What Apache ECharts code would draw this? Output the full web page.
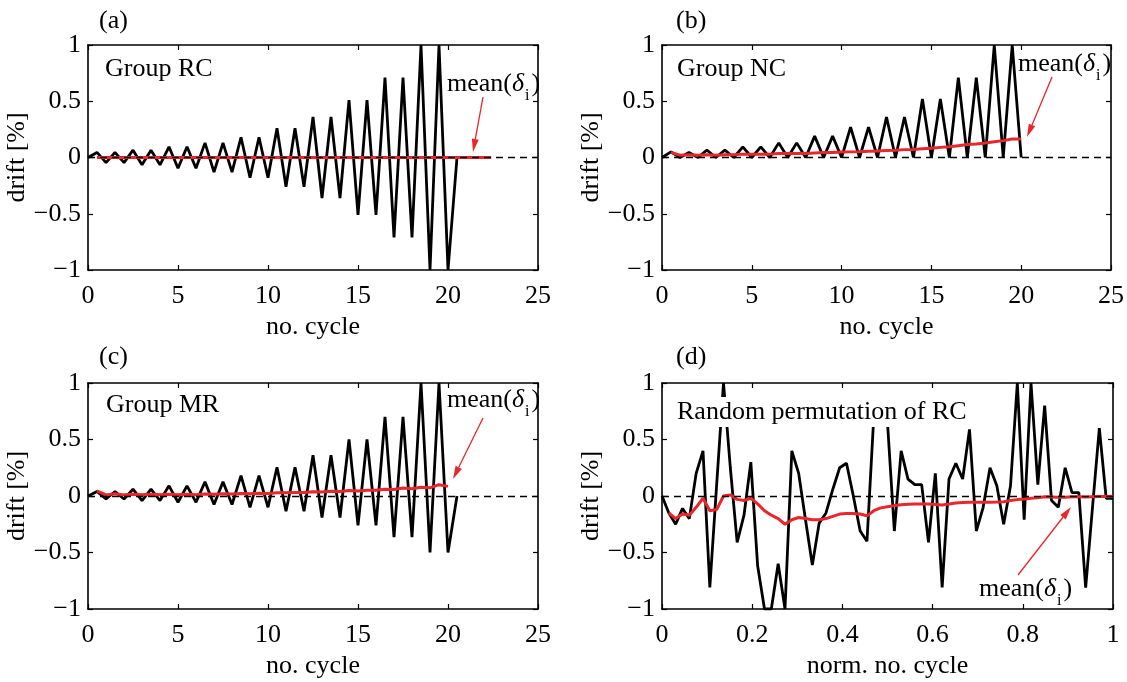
<!DOCTYPE html>
<html><head><meta charset="utf-8">
<script src="https://cdn.jsdelivr.net/npm/echarts@6/dist/echarts.min.js"></script>
<style>html,body{margin:0;padding:0;background:#fff}#c{width:1127px;height:682px}</style>
</head><body><div id="c"></div>
<script>
// ---------------- data ----------------
const halfCycle = 0.5;                 // drift sampled every half cycle
// (a) Group RC – drift per half cycle, starting at cycle 0
const driftRC = [0,0.045,-0.045,0.045,-0.045,0.065,-0.065,0.065,-0.065,0.095,-0.095,0.095,-0.095,
  0.13,-0.13,0.13,-0.13,0.18,-0.18,0.18,-0.18,0.26,-0.26,0.26,-0.26,0.36,-0.36,0.36,-0.36,
  0.51,-0.51,0.51,-0.51,0.71,-0.71,0.71,-0.71,1.0,-1.0,1.0,-1.0,0];
const meanRCx = [0.5, 22.4];
const meanRC  = [0, 0];
// (b) Group NC
const driftNC = [0,0.05,0,0.045,0,0.065,0,0.065,0,0.095,0,0.095,0,0.13,0,0.13,0,0.19,0,0.19,0,
  0.27,0,0.27,0,0.36,0,0.36,0,0.52,0,0.52,0,0.71,0,0.71,0,1.0,0,1.0,0];
const meanNC = [0.045,0.02,0.025,0.02,0.025,0.02,0.025,0.025,0.03,0.03,0.03,0.03,0.035,0.035,0.035,0.035,
  0.04,0.045,0.045,0.048,0.05,0.052,0.055,0.058,0.062,0.065,0.07,0.072,0.078,0.082,0.09,0.095,
  0.105,0.115,0.12,0.128,0.14,0.15,0.165,0.165];
// (c) Group MR
const driftMR = [0,0.04,-0.027,0.04,-0.027,0.06,-0.04,0.06,-0.04,0.09,-0.055,0.09,-0.055,
  0.125,-0.075,0.125,-0.075,0.18,-0.1,0.18,-0.1,0.255,-0.135,0.255,-0.135,0.36,-0.19,0.36,-0.19,
  0.5,-0.26,0.5,-0.26,0.7,-0.365,0.7,-0.365,1.0,-0.5,1.0,-0.5,0];
const meanMR = [0.045,0.01,0.02,0.01,0.015,0.01,0.015,0.01,0.015,0.012,0.015,0.012,0.018,0.015,0.02,0.018,
  0.022,0.02,0.025,0.022,0.028,0.028,0.032,0.032,0.038,0.036,0.042,0.04,0.048,0.045,
  0.05,0.05,0.06,0.058,0.07,0.065,0.078,0.072,0.1,0.085];
// (d) Random permutation of RC – evenly spaced over normalised cycle 0..1
const driftPerm = [0,-0.15,-0.25,-0.11,-0.2,0.2,0.4,-0.81,0.1,1.0,0.25,-0.41,-0.17,0.3,-0.62,-1.0,-1.0,-0.6,-1.0,
  0.4,0.2,-0.21,-0.61,-0.24,-0.15,0.06,0.25,0.29,0.0,-0.31,-0.4,0.71,0.85,0.65,-0.31,0.4,0.15,0.1,0.1,
  -0.41,0.2,-0.81,0.15,0.29,0.15,0.59,-0.31,-0.1,0.25,0.09,-0.25,0.09,1.0,-0.21,1.0,0.1,0.8,-0.04,-0.1,
  0.25,0.03,0.03,-0.81,-0.1,0.6,-0.02,-0.02];
const meanPerm = [-0.15,-0.2,-0.16,-0.17,-0.1,-0.02,-0.13,-0.12,0.0,0.01,-0.03,-0.04,-0.02,-0.07,-0.13,-0.17,
  -0.2,-0.25,-0.21,-0.19,-0.2,-0.21,-0.21,-0.2,-0.18,-0.16,-0.155,-0.155,-0.16,-0.175,-0.13,-0.105,
  -0.095,-0.085,-0.078,-0.072,-0.07,-0.07,-0.07,-0.075,-0.08,-0.07,-0.062,-0.058,-0.056,-0.056,-0.056,
  -0.055,-0.053,-0.05,-0.04,-0.032,-0.027,-0.02,-0.015,-0.006,-0.008,-0.012,-0.01,-0.006,-0.006,
  -0.008,-0.006,-0.005,-0.004,-0.003];
const yTicks = [-1, -0.5, 0, 0.5, 1];
const panelLabels = ['(a)', '(b)', '(c)', '(d)'];
const groupNames = ['Group RC', 'Group NC', 'Group MR', 'Random permutation of RC'];
const xNames = ['no. cycle', 'no. cycle', 'no. cycle', 'norm. no. cycle'];
const yName = 'drift [%]';

// ---------------- helpers ----------------
const FONT = '"Liberation Serif", "Times New Roman", serif';
const RED = '#e8262b';
const fmt = v => String(+(+v).toFixed(2)).replace('-', '\u2212');
const halfPairs = arr => arr.map((v, i) => [i * halfCycle, v]);
const pairsFrom = (arr, x0) => arr.map((v, i) => [x0 + i * halfCycle, v]);
const zipPairs = (xs, ys) => xs.map((x, i) => [x, ys[i]]);
const normPairs = (arr, offset, n) => arr.map((v, i) => [(i + offset) / n, v]);

const grids = [
  {left: 88, top: 45, width: 450, height: 225},
  {left: 662, top: 45, width: 450, height: 225},
  {left: 88, top: 383, width: 450, height: 226},
  {left: 662, top: 383, width: 451, height: 226}
];
const xRanges = [[0,25,5],[0,25,5],[0,25,5],[0,1,0.2]];

const axisLine = {show: true, onZero: false, lineStyle: {color: '#000', width: 1.6}};
const axisTick = {show: true, inside: true, length: 5, lineStyle: {color: '#000', width: 1.2}};
const labelStyle = {color: '#000', fontFamily: FONT, fontSize: 26};

const xAxis = [], yAxis = [];
grids.forEach((g, i) => {
  const [mn, mx, iv] = xRanges[i];
  xAxis.push({type: 'value', gridIndex: i, min: mn, max: mx, interval: iv, position: 'bottom',
    axisLine, axisTick, splitLine: {show: false},
    axisLabel: Object.assign({margin: 13, formatter: fmt}, labelStyle),
    name: xNames[i], nameLocation: 'middle', nameGap: 44,
    nameTextStyle: {color: '#000', fontFamily: FONT, fontSize: 26}});
  xAxis.push({type: 'value', gridIndex: i, min: mn, max: mx, interval: iv, position: 'top',
    axisLine, axisTick, splitLine: {show: false}, axisLabel: {show: false}});
  yAxis.push({type: 'value', gridIndex: i, min: -1, max: 1, interval: 0.5, position: 'left',
    axisLine, axisTick, splitLine: {show: false},
    axisLabel: Object.assign({margin: 7, formatter: fmt}, labelStyle),
    name: yName, nameLocation: 'middle', nameGap: 55, nameRotate: 90,
    nameTextStyle: {color: '#000', fontFamily: FONT, fontSize: 26}});
  yAxis.push({type: 'value', gridIndex: i, min: -1, max: 1, interval: 0.5, position: 'right',
    axisLine, axisTick, splitLine: {show: false}, axisLabel: {show: false}});
});

const blackData = [halfPairs(driftRC), halfPairs(driftNC), halfPairs(driftMR), normPairs(driftPerm, 0, driftPerm.length - 1)];
const redData = [zipPairs(meanRCx, meanRC), pairsFrom(meanNC, 0.5), pairsFrom(meanMR, 0.5), normPairs(meanPerm, 1, driftPerm.length - 1)];

const series = [];
grids.forEach((g, i) => {
  series.push({type: 'line', name: 'drift', xAxisIndex: 2*i, yAxisIndex: 2*i, data: blackData[i],
    symbol: 'none', clip: true, z: 2, lineStyle: {color: '#000', width: 2.8}, itemStyle: {color: '#000'},
    markLine: {silent: true, symbol: 'none', label: {show: false}, animation: false,
      lineStyle: {color: '#000', type: [7, 5], width: 1.3}, data: [{yAxis: 0}]}});
  series.push({type: 'line', name: 'mean', xAxisIndex: 2*i, yAxisIndex: 2*i, data: redData[i],
    symbol: 'none', clip: true, z: 3, lineStyle: {color: RED, width: 3}, itemStyle: {color: RED}});
});

// ---------------- annotations (layout) ----------------
const graphic = [];
const panelLabelPos = [[99, 21], [676, 21], [99, 357], [676, 357]];
panelLabels.forEach((t, i) => graphic.push({type: 'text', x: panelLabelPos[i][0], y: panelLabelPos[i][1], z: 100,
  style: {text: t, fontFamily: FONT, fontSize: 26, fill: '#000', align: 'left', verticalAlign: 'middle'}}));
const groupPos = [[105, 69], [677, 69], [106, 405], [677, 412]];
groupNames.forEach((t, i) => graphic.push({type: 'text', x: groupPos[i][0], y: groupPos[i][1], z: 100,
  style: {text: t, fontFamily: FONT, fontSize: 26, fill: '#000', align: 'left', verticalAlign: 'middle',
    backgroundColor: '#fff', padding: [2, 2, 2, 0]}}));
const meanRich = {
  m: {fontSize: 26, fontFamily: FONT, fill: '#000', color: '#000'},
  d: {fontSize: 26, fontFamily: FONT, fontStyle: 'italic', fill: '#000', color: '#000'},
  s: {fontSize: 16, fontFamily: FONT, fill: '#000', color: '#000', padding: [24, 2, 0, 1]}
};
const meanPos = [[447, 84], [1018, 64], [447, 400], [979, 589]];
meanPos.forEach(p => graphic.push({type: 'text', x: p[0], y: p[1], z: 100,
  style: {text: '{m|mean(}{d|\u03b4}{s|i}{m|)}', rich: meanRich, align: 'left', verticalAlign: 'middle',
    fontFamily: FONT, fontSize: 26, fill: '#000'}}));
const arrows = [[483, 97, 473, 152], [1052, 77, 1027, 137], [483, 418, 453, 479], [1018, 575, 1071, 507]];
arrows.forEach(([x1, y1, x2, y2]) => {
  const dx = x2 - x1, dy = y2 - y1, L = Math.hypot(dx, dy), ux = dx / L, uy = dy / L;
  const hl = 13, hw = 3.5, bx = x2 - ux * hl, by = y2 - uy * hl;
  graphic.push({type: 'line', z: 100, shape: {x1, y1, x2: bx, y2: by}, style: {stroke: RED, lineWidth: 1.3}});
  graphic.push({type: 'polygon', z: 100, shape: {points: [[x2, y2], [bx - uy * hw, by + ux * hw], [bx + uy * hw, by - ux * hw]]},
    style: {fill: RED}});
});

const chart = echarts.init(document.getElementById('c'), null, {renderer: 'canvas'});
chart.setOption({
  animation: false, backgroundColor: '#fff',
  grid: grids, xAxis, yAxis, series, graphic
});
</script></body></html>
